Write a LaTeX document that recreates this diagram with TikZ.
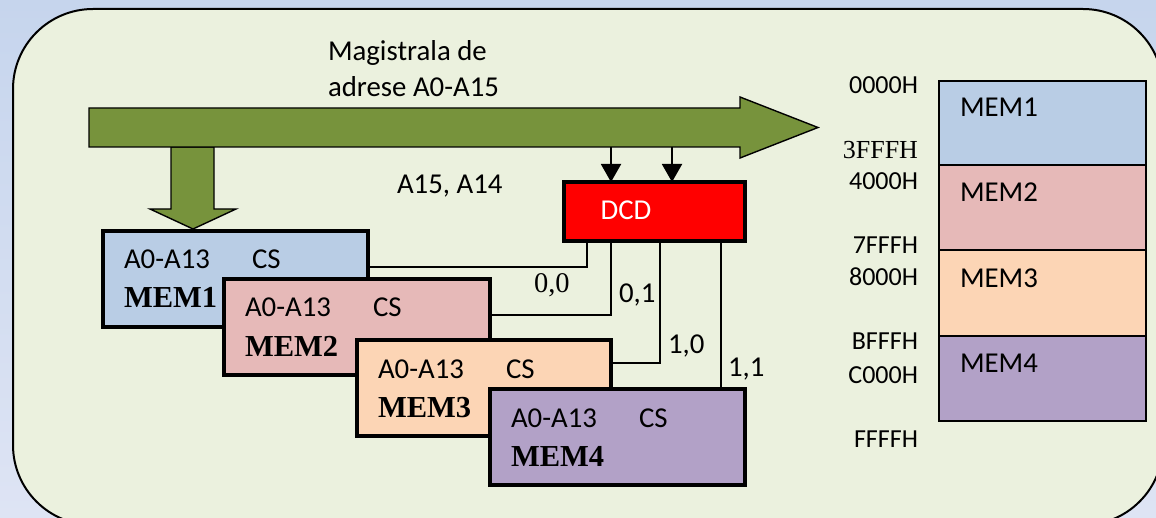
\documentclass[tikz,border=0pt]{standalone}
\usepackage{fontspec}
\setmainfont{Carlito}
\newfontfamily\serifTNR{Liberation Serif}
\usetikzlibrary{arrows.meta,calc}
\definecolor{bgtop}{RGB}{198,213,237}
\definecolor{bgbot}{RGB}{222,228,244}
\definecolor{panel}{RGB}{235,241,222}
\definecolor{bus}{RGB}{119,147,60}
\definecolor{memA}{RGB}{185,205,229}
\definecolor{memB}{RGB}{230,185,184}
\definecolor{memC}{RGB}{252,213,181}
\definecolor{memD}{RGB}{178,161,199}
\tikzset{
  txt/.style={inner sep=0pt, outer sep=0pt, anchor=base west, font=\fontsize{28.8}{34}\selectfont},
  sertxt/.style={inner sep=0pt, outer sep=0pt, anchor=base west, font=\fontsize{28.5}{34}\serifTNR},
  addr/.style={inner sep=0pt, outer sep=0pt, anchor=base east, font=\fontsize{26}{31}\selectfont},
  seraddr/.style={inner sep=0pt, outer sep=0pt, anchor=base east, font=\fontsize{26}{31}\serifTNR},
  memname/.style={inner sep=0pt, outer sep=0pt, anchor=base west, font=\fontsize{30.5}{36}\serifTNR\bfseries},
  memblk/.style={draw=black, line width=4pt, minimum height=96pt, inner sep=0pt, outer sep=0pt},
  mapcell/.style={draw=black, line width=1.6pt, minimum width=207pt, inner sep=0pt, outer sep=0pt, anchor=north west},
  wire/.style={draw=black, line width=1.8pt},
  busarrow/.style={draw=black, line width=1.4pt, fill=bus, line join=miter},
  sig/.style={draw=black, line width=2pt, -{Triangle[width=20pt,length=18pt]}}
}
\begin{document}
\begin{tikzpicture}[x=1pt,y=-1pt]
\useasboundingbox (0,0) rectangle (1156,518);
% background and rounded panel
\shade[top color=bgtop, bottom color=bgbot] (0,0) rectangle (1156,518);
\draw[fill=panel, line width=2pt, rounded corners=80pt] (13,9) rectangle (1163,525);

% address bus: branch down to the memories, then the main horizontal arrow
\draw[busarrow] (171,147) -- (214,147) -- (214,209) -- (236,209) -- (193,229)
  -- (150,209) -- (171,209) -- cycle;
\draw[busarrow] (89,108) -- (740,108) -- (740,97) -- (818,127.5) -- (740,158)
  -- (740,147) -- (89,147) -- cycle;
\node[txt] (busl1) at (328,61) {Magistrala de};
\node[txt] (busl2) at (328,97) {adrese A0-A15};

% memory chips, each overlapping the previous one
\node[memblk, fill=memA, minimum width=265pt] (mem1) at (235.5,279) {};
\node[txt]     (mem1a)  at ($(mem1.north west)+(21,38)$)  {A0-A13};
\node[txt]     (mem1cs) at ($(mem1.north west)+(149,38)$) {CS};
\node[memname] (mem1n)  at ($(mem1.north west)+(21,77)$)  {MEM1};

\node[memblk, fill=memB, minimum width=266pt] (mem2) at (357,327) {};
\node[txt]     (mem2a)  at ($(mem2.north west)+(21,38)$)  {A0-A13};
\node[txt]     (mem2cs) at ($(mem2.north west)+(149,38)$) {CS};
\node[memname] (mem2n)  at ($(mem2.north west)+(21,77)$)  {MEM2};

\node[memblk, fill=memC, minimum width=254pt] (mem3) at (484,388) {};
\node[txt]     (mem3a)  at ($(mem3.north west)+(21,38)$)  {A0-A13};
\node[txt]     (mem3cs) at ($(mem3.north west)+(149,38)$) {CS};
\node[memname] (mem3n)  at ($(mem3.north west)+(21,77)$)  {MEM3};

\node[memblk, fill=memD, minimum width=255pt] (mem4) at (617.5,437) {};
\node[txt]     (mem4a)  at ($(mem4.north west)+(21,38)$)  {A0-A13};
\node[txt]     (mem4cs) at ($(mem4.north west)+(149,38)$) {CS};
\node[memname] (mem4n)  at ($(mem4.north west)+(21,77)$)  {MEM4};

% decoder
\node[draw=black, line width=4pt, fill=red, minimum width=181pt, minimum height=59pt,
      inner sep=0pt, outer sep=0pt] (dcd) at (654.5,211.5) {};
\node[txt, anchor=base, text=white] (dcdtxt) at (626,220) {DCD};
\node[txt] (selbits) at (397,194) {A15, A14};

% A15 and A14 taken from the bus into the decoder
\coordinate (a15) at (611,147);
\coordinate (a14) at (672,147);
\draw[sig] (a15) -- (a15 |- dcd.north);
\draw[sig] (a14) -- (a14 |- dcd.north);

% decoder outputs to the chip-select inputs
\coordinate (q0) at ($(dcd.south west)+(23,0)$);
\coordinate (q1) at ($(dcd.south west)+(47,0)$);
\coordinate (q2) at ($(dcd.south west)+(96,0)$);
\coordinate (q3) at ($(dcd.south west)+(157,0)$);
\coordinate (cs1) at ($(mem1.north east)+(0,36)$);
\coordinate (cs2) at ($(mem2.north east)+(0,36)$);
\coordinate (cs3) at ($(mem3.north east)+(0,23)$);
\draw[wire] (q0) |- (cs1);
\draw[wire] (q1) |- (cs2);
\draw[wire] (q2) |- (cs3);
\draw[wire] (q3) -- (q3 |- mem4.north);
\node[sertxt] (o00) at (534,293) {0,0};
\node[txt]    (o01) at (619,303) {0,1};
\node[txt]    (o10) at (668,353) {1,0};
\node[txt]    (o11) at (728,376) {1,1};

% memory map
\node[mapcell, fill=memA, minimum height=84pt] (m1) at (939,81) {};
\node[mapcell, fill=memB, minimum height=85pt] (m2) at (939,165) {};
\node[mapcell, fill=memC, minimum height=86pt] (m3) at (939,250) {};
\node[mapcell, fill=memD, minimum height=85pt] (m4) at (939,336) {};
\node[txt] (m1t) at ($(m1.north west)+(21,36)$) {MEM1};
\node[txt] (m2t) at ($(m2.north west)+(21,37)$) {MEM2};
\node[txt] (m3t) at ($(m3.north west)+(21,38)$) {MEM3};
\node[txt] (m4t) at ($(m4.north west)+(21,37)$) {MEM4};

\node[addr]    (ad0) at (918,94)  {0000H};
\node[seraddr] (ad1) at (918,159) {3FFFH};
\node[addr]    (ad2) at (918,190) {4000H};
\node[addr]    (ad3) at (918,254) {7FFFH};
\node[addr]    (ad4) at (918,286) {8000H};
\node[addr]    (ad5) at (918,350) {BFFFH};
\node[addr]    (ad6) at (918,383) {C000H};
\node[addr]    (ad7) at (918,447) {FFFFH};
\end{tikzpicture}
\end{document}
